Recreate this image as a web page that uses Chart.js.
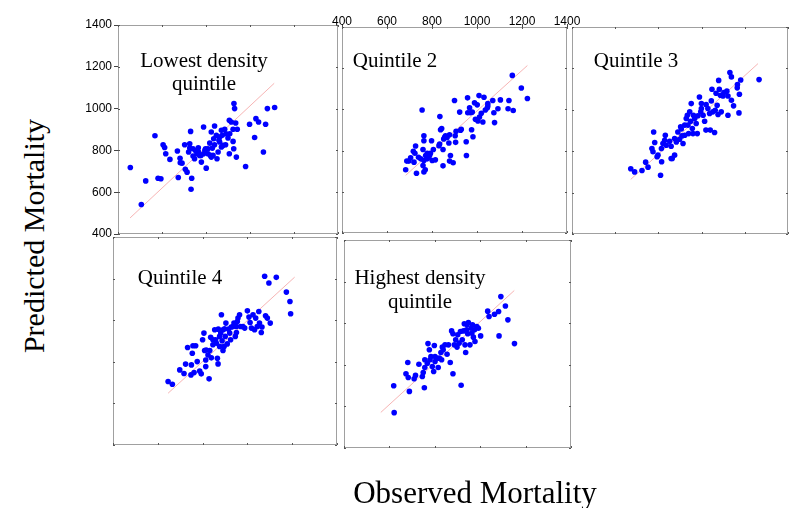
<!DOCTYPE html>
<html>
<head>
<title>Observed vs Predicted Mortality</title>
<script src="https://cdn.jsdelivr.net/npm/chart.js"></script>
<style>
    body { margin: 0; background: #fff; }
    #wrap { position: relative; width: 790px; height: 508px; overflow: hidden; }
    canvas { position: absolute; }
    .lbl { position: absolute; font-family: "Liberation Serif", "Times New Roman", serif; color: #000;
           white-space: nowrap; text-align: center; transform: translate(-50%, -50%); }
</style>
</head>
<body>
<div id="wrap">
    <canvas id="c1"></canvas>
    <canvas id="c2"></canvas>
    <canvas id="c3"></canvas>
    <canvas id="c4"></canvas>
    <canvas id="c5"></canvas>
    <div class="lbl" style="left:204px; top:72px; font-size:21px; line-height:23px;">Lowest density<br>quintile</div>
    <div class="lbl" style="left:395px; top:60px; font-size:21px;">Quintile 2</div>
    <div class="lbl" style="left:636px; top:60px; font-size:21px;">Quintile 3</div>
    <div class="lbl" style="left:180px; top:277px; font-size:21px;">Quintile 4</div>
    <div class="lbl" style="left:420px; top:289px; font-size:21px; line-height:24px;">Highest density<br>quintile</div>
    <div class="lbl" style="left:34px; top:236px; font-size:30px; transform: translate(-50%, -50%) rotate(-90deg);">Predicted Mortality</div>
    <div class="lbl" style="left:475px; top:493px; font-size:31px;">Observed Mortality</div>
</div>
<script>
    // axis ticks shared by all panels
    const tickValues = [400, 600, 800, 1000, 1200, 1400];

    // Lowest density quintile
    const obs1 = [456,506,526,568,582,595,605,612,617,636,670,674,682,683,691,703,706,714,730,735,732,721,726,741,748,753,759,765,771,789,779,789,798,801,809,817,824,829,832,839,839,847,850,855,859,862,870,874,877,885,889,900,906,906,915,923,926,927,930,935,938,942,980,998,1021,1027,1039,1061,1071,1079,1112,923,891,741,765,777,795,820,835,824,862,870,809,908,726];
    const pred1 = [718,541,654,870,667,664,827,814,784,757,797,670,762,741,739,827,710,696,891,667,614,792,811,773,760,798,784,795,776,912,744,784,808,715,784,835,888,811,776,917,827,872,760,792,848,840,896,872,824,901,827,859,944,784,936,843,808,1024,1000,931,768,901,723,925,862,952,936,792,925,1000,1005,901,880,808,813,776,800,776,856,768,864,816,808,880,832];
    const lineObs1 = [455, 1110];
    const linePred1 = [477, 1121];

    // Quintile 2
    const obs2 = [683,688,697,705,717,720,724,727,731,740,756,760,764,764,764,764,770,772,779,786,793,798,801,806,815,831,835,838,843,849,849,852,856,860,867,875,878,878,882,894,900,903,905,907,923,927,930,952,953,958,959,967,971,976,982,979,989,993,1001,1004,1009,1011,1019,1026,1031,1037,1046,1048,1070,1075,1078,1093,1104,1138,1142,1157,1161,1197,1224,760,750,779,790,834,1048];
    const pred2 = [707,749,749,765,797,744,787,822,690,768,997,805,872,848,752,696,707,776,787,768,787,848,752,805,755,824,965,901,907,805,726,856,864,872,864,837,877,749,776,741,1043,872,840,894,987,899,904,843,776,1056,984,1008,984,901,867,987,1032,952,1022,944,1067,963,981,939,1059,997,1008,1029,1043,984,936,1003,1046,1003,1043,1165,995,1104,1053,728,760,760,779,832,1016];
    const lineObs2 = [683, 1224];
    const linePred2 = [680, 1213];

    // Quintile 3
    const obs3 = [672,690,724,741,752,778,770,775,783,794,798,810,815,814,821,829,832,836,852,859,864,875,883,890,898,903,909,914,922,929,934,937,940,949,952,957,962,968,975,980,983,990,996,999,1007,1014,1020,1021,1029,1037,1040,1045,1048,1052,1060,1063,1067,1072,1076,1079,1082,1087,1091,1099,1103,1117,1122,1122,1131,1138,1138,1148,1166,1165,1175,1173,1181,1266,999,960,945,922,906,859,875];
    const pred3 = [715,700,707,747,723,893,813,797,842,773,781,684,749,813,837,853,877,829,848,824,765,781,845,893,858,918,874,837,877,958,974,926,885,945,1030,910,974,958,934,885,971,1062,990,1030,974,945,902,1025,1006,982,902,1043,1099,990,890,998,1080,1022,977,1142,1099,1070,990,1067,1083,1090,1067,974,1180,1159,1046,1019,1122,1106,1075,985,1144,1146,1006,885,990,926,907,765,861];
    const lineObs3 = [672, 1261];
    const linePred3 = [664, 1223];

    // Quintile 4
    const obs4 = [646,665,698,717,724,733,748,750,754,757,762,769,776,787,794,800,806,809,814,814,816,829,832,836,839,846,854,858,861,866,869,870,876,881,884,887,891,896,898,901,904,910,916,921,925,928,936,940,946,951,955,958,965,970,980,988,1000,1007,1012,1018,1025,1032,1037,1044,1051,1054,1062,1065,1077,1081,1089,1096,1102,1129,1174,1190,1193,876,846,824,891,951];
    const pred4 = [705,692,761,744,789,869,737,785,841,877,748,877,801,756,742,906,938,854,809,777,857,718,854,918,819,882,954,906,890,817,790,957,874,938,1026,901,854,874,959,922,986,886,957,938,906,967,970,986,922,941,994,1010,1026,970,970,962,1045,1015,989,962,1026,954,1010,970,1042,986,941,967,1211,1021,1010,1179,986,1206,1135,1090,1031,922,906,833,954,970];
    const lineObs4 = [646, 1211];
    const linePred4 = [649, 1207];

    // Highest density quintile
    const obs5 = [619,621,673,688,681,683,709,715,730,745,749,754,756,767,770,779,783,789,795,798,801,808,815,820,827,833,837,845,854,860,868,874,880,886,892,898,901,907,913,916,921,926,930,933,936,942,945,948,955,960,963,966,970,975,977,985,992,1002,1033,1039,1063,1081,1083,1091,1111,1122,1151,756,801,880,940,830,776];
    const pred5 = [699,570,757,672,811,739,733,749,803,744,763,690,787,808,902,824,840,792,768,893,816,832,787,832,859,885,872,896,851,896,811,963,757,896,920,885,944,904,960,702,920,963,997,896,859,992,949,1003,896,976,952,992,933,968,912,984,976,939,1058,1032,1043,1056,939,1128,1083,1016,902,824,840,949,968,824,872];
    const lineObs5 = [562, 1150];
    const linePred5 = [571, 1157];

    const toPoints = (xs, ys) => xs.map((x, i) => ({ x: x, y: ys[i] }));

    // draws the grey box round each panel, with small inner tick marks
    const framePlugin = {
        id: 'frame',
        beforeDatasetsDraw(chart) {
            const a = chart.chartArea, ctx = chart.ctx;
            const sx = chart.scales.x, sy = chart.scales.y;
            ctx.save();
            ctx.strokeStyle = '#a0a0a0';
            ctx.lineWidth = 1;
            ctx.strokeRect(Math.round(a.left) + 0.5, Math.round(a.top) + 0.5,
                           Math.round(a.right - a.left) - 1, Math.round(a.bottom - a.top) - 1);
            ctx.strokeStyle = '#555';
            ctx.beginPath();
            tickValues.forEach(v => {
                const px = Math.round(sx.getPixelForValue(v)) + 0.5;
                const py = Math.round(sy.getPixelForValue(v)) + 0.5;
                ctx.moveTo(px, a.top); ctx.lineTo(px, a.top + 2);
                ctx.moveTo(px, a.bottom); ctx.lineTo(px, a.bottom - 2);
                ctx.moveTo(a.left, py); ctx.lineTo(a.left + 2, py);
                ctx.moveTo(a.right, py); ctx.lineTo(a.right - 2, py);
            });
            ctx.stroke();
            ctx.restore();
        }
    };

    function makePanel(id, obs, pred, lo, lp, box, yAxis, xAxis) {
        const padL = 16, padR = 16, padT = 10, padB = 10;
        const yW = yAxis ? 40 : 0;
        const xH = xAxis ? 22 : 0;
        const canvas = document.getElementById(id);
        canvas.width = box[2] + padL + padR + yW;
        canvas.height = box[3] + padT + padB + xH;
        canvas.style.width = canvas.width + 'px';
        canvas.style.height = canvas.height + 'px';
        canvas.style.left = (box[0] - padL - yW) + 'px';
        canvas.style.top = (box[1] - padT - xH) + 'px';

        const tickFont = { family: 'Liberation Sans, Arial, sans-serif', size: 12 };
        const plain = v => String(v);
        const xScale = {
            type: 'linear', min: 400, max: 1400, display: xAxis, position: 'top',
            ticks: { stepSize: 200, font: tickFont, color: '#000', padding: -5, maxRotation: 0,
                     autoSkip: false, callback: plain },
            grid: { drawOnChartArea: false, tickLength: 3, color: '#444' },
            border: { color: '#444' }
        };
        const yScale = {
            type: 'linear', min: 400, max: 1400, display: yAxis, position: 'left',
            ticks: { stepSize: 200, font: tickFont, color: '#000', padding: 2, autoSkip: false, callback: plain },
            grid: { drawOnChartArea: false, tickLength: 4, color: '#444' },
            border: { color: '#444' }
        };
        if (xAxis) xScale.afterFit = s => { s.height = xH; };
        if (yAxis) yScale.afterFit = s => { s.width = yW; };

        return new Chart(canvas.getContext('2d'), {
            type: 'scatter',
            data: {
                datasets: [{
                    data: toPoints(obs, pred),
                    backgroundColor: '#0000ff',
                    borderWidth: 0,
                    pointRadius: 2.8
                }, {
                    data: toPoints(lo, lp),
                    showLine: true,
                    borderColor: 'rgba(240,130,130,0.6)',
                    borderWidth: 1,
                    pointRadius: 0
                }]
            },
            options: {
                responsive: false,
                animation: false,
                layout: { padding: { left: padL, right: padR, top: padT, bottom: padB } },
                plugins: { legend: { display: false }, tooltip: { enabled: false } },
                scales: { x: xScale, y: yScale }
            },
            plugins: [framePlugin]
        });
    }

    makePanel('c1', obs1, pred1, lineObs1, linePred1, [118, 25, 220, 209], true, false);
    makePanel('c2', obs2, pred2, lineObs2, linePred2, [342, 27, 225, 206], false, true);
    makePanel('c3', obs3, pred3, lineObs3, linePred3, [572, 27, 216, 207], false, false);
    makePanel('c4', obs4, pred4, lineObs4, linePred4, [113, 237, 224, 208], false, false);
    makePanel('c5', obs5, pred5, lineObs5, linePred5, [344, 240, 227, 208], false, false);
</script>
</body>
</html>
